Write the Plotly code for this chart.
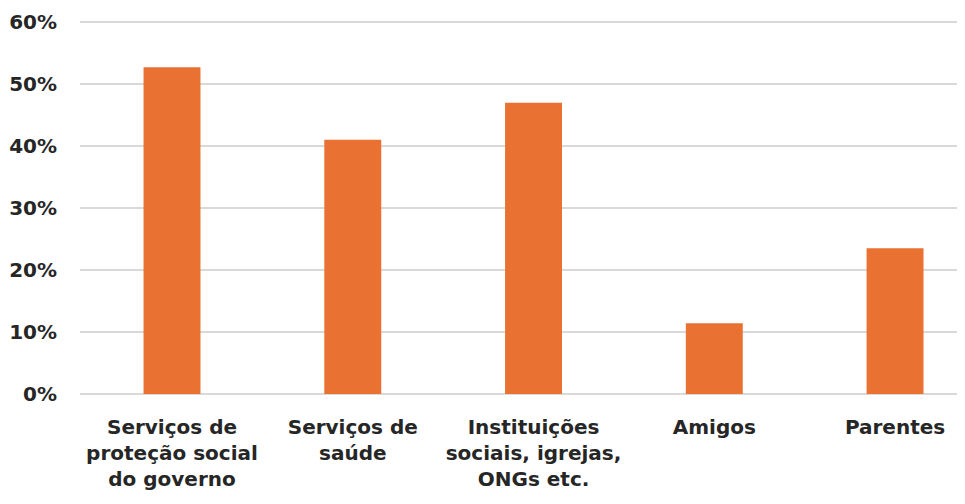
import plotly.graph_objects as go

categories = [
    "Serviços de<br>proteção social<br>do governo",
    "Serviços de<br>saúde",
    "Instituições<br>sociais, igrejas,<br>ONGs etc.",
    "Amigos",
    "Parentes",
]
values = [52.7, 41.0, 47.0, 11.4, 23.5]
y_ticks = [0, 10, 20, 30, 40, 50, 60]

bar_color = "#E97132"
text_color = "#262626"
grid_color = "#D9D9D9"
font_family = "DejaVu Sans, Roboto, sans-serif"

fig = go.Figure()
fig.add_trace(go.Bar(
    x=list(range(len(categories))),
    y=values,
    width=0.315,
    marker=dict(color=bar_color, line=dict(width=0)),
    hoverinfo="skip",
))

# the page adds an 8px body margin, so the figure is sized/shifted to compensate
fig.update_layout(
    width=957,
    height=496,
    margin=dict(l=72, r=0, t=11, b=110),
    plot_bgcolor="white",
    paper_bgcolor="white",
    showlegend=False,
    font=dict(family=font_family, size=20, color=text_color),
    xaxis=dict(
        range=[-0.509, 4.387],
        tickvals=list(range(len(categories))),
        ticktext=categories,
        showgrid=False,
        zeroline=False,
        showline=False,
        ticks="",
        tickfont=dict(family=font_family, size=20, color=text_color, weight="bold"),
        ticklabelstandoff=19,
    ),
    yaxis=dict(
        range=[0, 60.5],
        tickvals=y_ticks,
        ticktext=[f"{v}%" for v in y_ticks],
        showgrid=True,
        gridcolor=grid_color,
        gridwidth=1.5,
        zeroline=True,
        zerolinecolor=grid_color,
        zerolinewidth=1.5,
        showline=False,
        ticks="",
        tickfont=dict(family=font_family, size=20, color=text_color, weight="bold"),
        ticklabelstandoff=22,
    ),
)

fig.write_html("out.html")
